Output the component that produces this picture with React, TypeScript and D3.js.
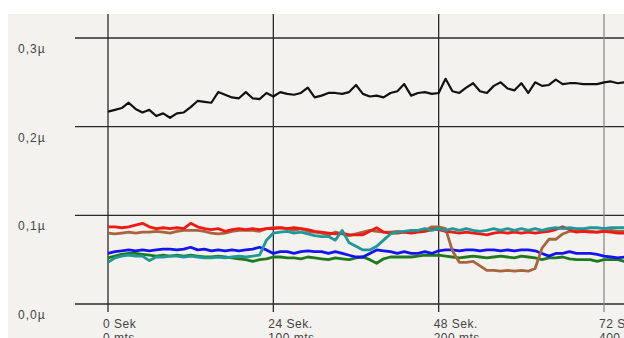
import React, { useEffect } from "react";
import { scaleLinear, line } from "d3";

// one sample per second, values in nano units (0,1µ = 100)
const seconds = Array.from({ length: 76 }, (_, i) => i);

const blackSeries = [
  217, 219, 221, 227, 220, 216, 219, 212, 215, 210,
  215, 216, 222, 229, 228, 227, 239, 236, 233, 232,
  239, 232, 231, 238, 234, 239, 237, 236, 238, 244,
  233, 235, 238, 238, 237, 239, 247, 237, 234, 235,
  233, 238, 240, 248, 235, 238, 239, 237, 238, 254,
  240, 238, 244, 249, 240, 238, 246, 250, 243, 241,
  249, 238, 250, 246, 247, 253, 248, 249, 249, 248,
  248, 248, 250, 251, 249, 250,
];

const redSeries = [
  87, 87, 86, 87, 89, 91, 87, 85, 86, 85,
  86, 85, 91, 87, 85, 84, 85, 82, 84, 85,
  84, 85, 84, 85, 85, 86, 85, 86, 85, 84,
  82, 81, 80, 79, 80, 78, 78, 78, 82, 86,
  81, 80, 80, 81, 80, 81, 82, 84, 84, 82,
  81, 80, 81, 80, 79, 78, 80, 81, 80, 81,
  80, 81, 80, 81, 82, 84, 87, 84, 81, 82,
  81, 81, 82, 81, 80, 80,
];

const brownSeries = [
  80, 79, 80, 81, 80, 81, 81, 82, 81, 80,
  82, 83, 83, 83, 82, 80, 79, 80, 82, 83,
  83, 83, 82, 85, 86, 86, 85, 83, 85, 82,
  81, 80, 78, 81, 79, 77, 79, 81, 83, 82,
  81, 81, 82, 81, 82, 83, 83, 87, 87, 85,
  60, 47, 47, 48, 43, 38, 38, 37, 38, 37,
  38, 37, 40, 63, 73, 73, 79, 82, 82, 83,
  82, 81, 82, 83, 82, 82,
];

const tealSeries = [
  47, 52, 54, 55, 54, 54, 49, 53, 53, 54,
  54, 53, 54, 53, 52, 52, 53, 52, 53, 54,
  53, 54, 55, 72, 80, 81, 82, 80, 81, 79,
  77, 76, 76, 72, 83, 69, 65, 61, 61, 65,
  72, 79, 81, 82, 83, 83, 85, 83, 85, 83,
  85, 83, 85, 83, 82, 83, 85, 83, 85, 83,
  85, 83, 85, 83, 85, 86, 85, 86, 85, 85,
  86, 86, 85, 86, 86, 86,
];

const blueSeries = [
  57, 59, 60, 61, 60, 61, 60, 61, 62, 62,
  61, 62, 64, 61, 62, 60, 61, 60, 61, 60,
  61, 62, 64, 61, 57, 59, 59, 57, 59, 60,
  59, 59, 57, 59, 57, 55, 53, 53, 57, 61,
  60, 59, 57, 59, 57, 57, 59, 57, 60, 61,
  61, 60, 61, 61, 60, 61, 61, 60, 61, 60,
  61, 61, 60, 57, 54, 57, 57, 59, 57, 57,
  57, 56, 54, 53, 52, 53,
];

const greenSeries = [
  52, 54, 56, 57, 57, 56, 55, 54, 55, 54,
  55, 54, 55, 54, 53, 53, 54, 53, 52, 51,
  50, 48, 50, 51, 53, 53, 52, 52, 51, 53,
  52, 51, 50, 52, 51, 50, 52, 53, 50, 46,
  51, 53, 53, 53, 53, 54, 55, 55, 55, 54,
  53, 52, 53, 54, 53, 52, 53, 54, 53, 52,
  54, 53, 52, 50, 52, 52, 53, 51, 50, 50,
  50, 48, 50, 50, 50, 48,
];

const yTicks = [0, 100, 200, 300];
const yTickLabels = ["0,0µ", "0,1µ", "0,2µ", "0,3µ"];
const xTicks = [0, 24, 48, 72];
const xTimeLabels = ["0 Sek", "24 Sek.", "48 Sek.", "72 Sek."];
const xDistLabels = ["0 mts", "100 mts", "200 mts", "400 mts"];

const width = 624;
const height = 338;
const font = "'Liberation Sans', Arial, sans-serif";

export default function App() {
  useEffect(() => {
    document.body.style.margin = "0";
  }, []);

  const xScale = scaleLinear().domain([0, 72]).range([108, 604]);
  const yScale = scaleLinear().domain([0, 300]).range([304, 38]);

  const path = (vals: number[]) =>
    line<number>()
      .x((d, i) => xScale(seconds[i]))
      .y((d) => yScale(d))(vals) || "";

  const series = [
    { data: greenSeries, color: "#1f7a1f", w: 2.8 },
    { data: blueSeries, color: "#1414ee", w: 2.8 },
    { data: brownSeries, color: "#a8643c", w: 2.8 },
    { data: redSeries, color: "#f01a14", w: 2.8 },
    { data: tealSeries, color: "#1e9898", w: 2.8 },
    { data: blackSeries, color: "#111", w: 2.2 },
  ];

  return (
    <svg width={width} height={height} style={{ display: "block" }}>
      <rect width={width} height={height} fill="#ffffff" />
      <rect x={8} y={14} width={width - 8} height={height - 14} fill="#f3f2ee" />

      <g className="grid">
        {yTicks.map((t) => (
          <line key={t} x1={75} x2={width} y1={yScale(t)} y2={yScale(t)} stroke="#2a2a2a" strokeWidth={1.3} />
        ))}
        {xTicks.map((t, i) => (
          <line
            key={t}
            x1={xScale(t)}
            x2={xScale(t)}
            y1={14}
            y2={312}
            stroke={i === xTicks.length - 1 ? "#8a8a8a" : "#2a2a2a"}
            strokeWidth={1.3}
          />
        ))}
      </g>

      <g className="lines">
        {series.map((s, i) => (
          <path key={i} d={path(s.data)} fill="none" stroke={s.color} strokeWidth={s.w} strokeLinejoin="round" />
        ))}
      </g>

      <g className="y-labels" fontFamily={font} fontSize={12} fill="#444" letterSpacing={1}>
        {yTicks.map((t, i) => (
          <text key={t} x={18} y={yScale(t) + 15}>
            {yTickLabels[i]}
          </text>
        ))}
      </g>

      <g className="x-labels" fontFamily={font} fontSize={12} fill="#444" letterSpacing={0.5}>
        {xTicks.map((t, i) => (
          <g key={t}>
            <text x={xScale(t) - 5} y={328}>
              {xTimeLabels[i]}
            </text>
            <text x={xScale(t) - 5} y={342}>
              {xDistLabels[i]}
            </text>
          </g>
        ))}
      </g>
    </svg>
  );
}
